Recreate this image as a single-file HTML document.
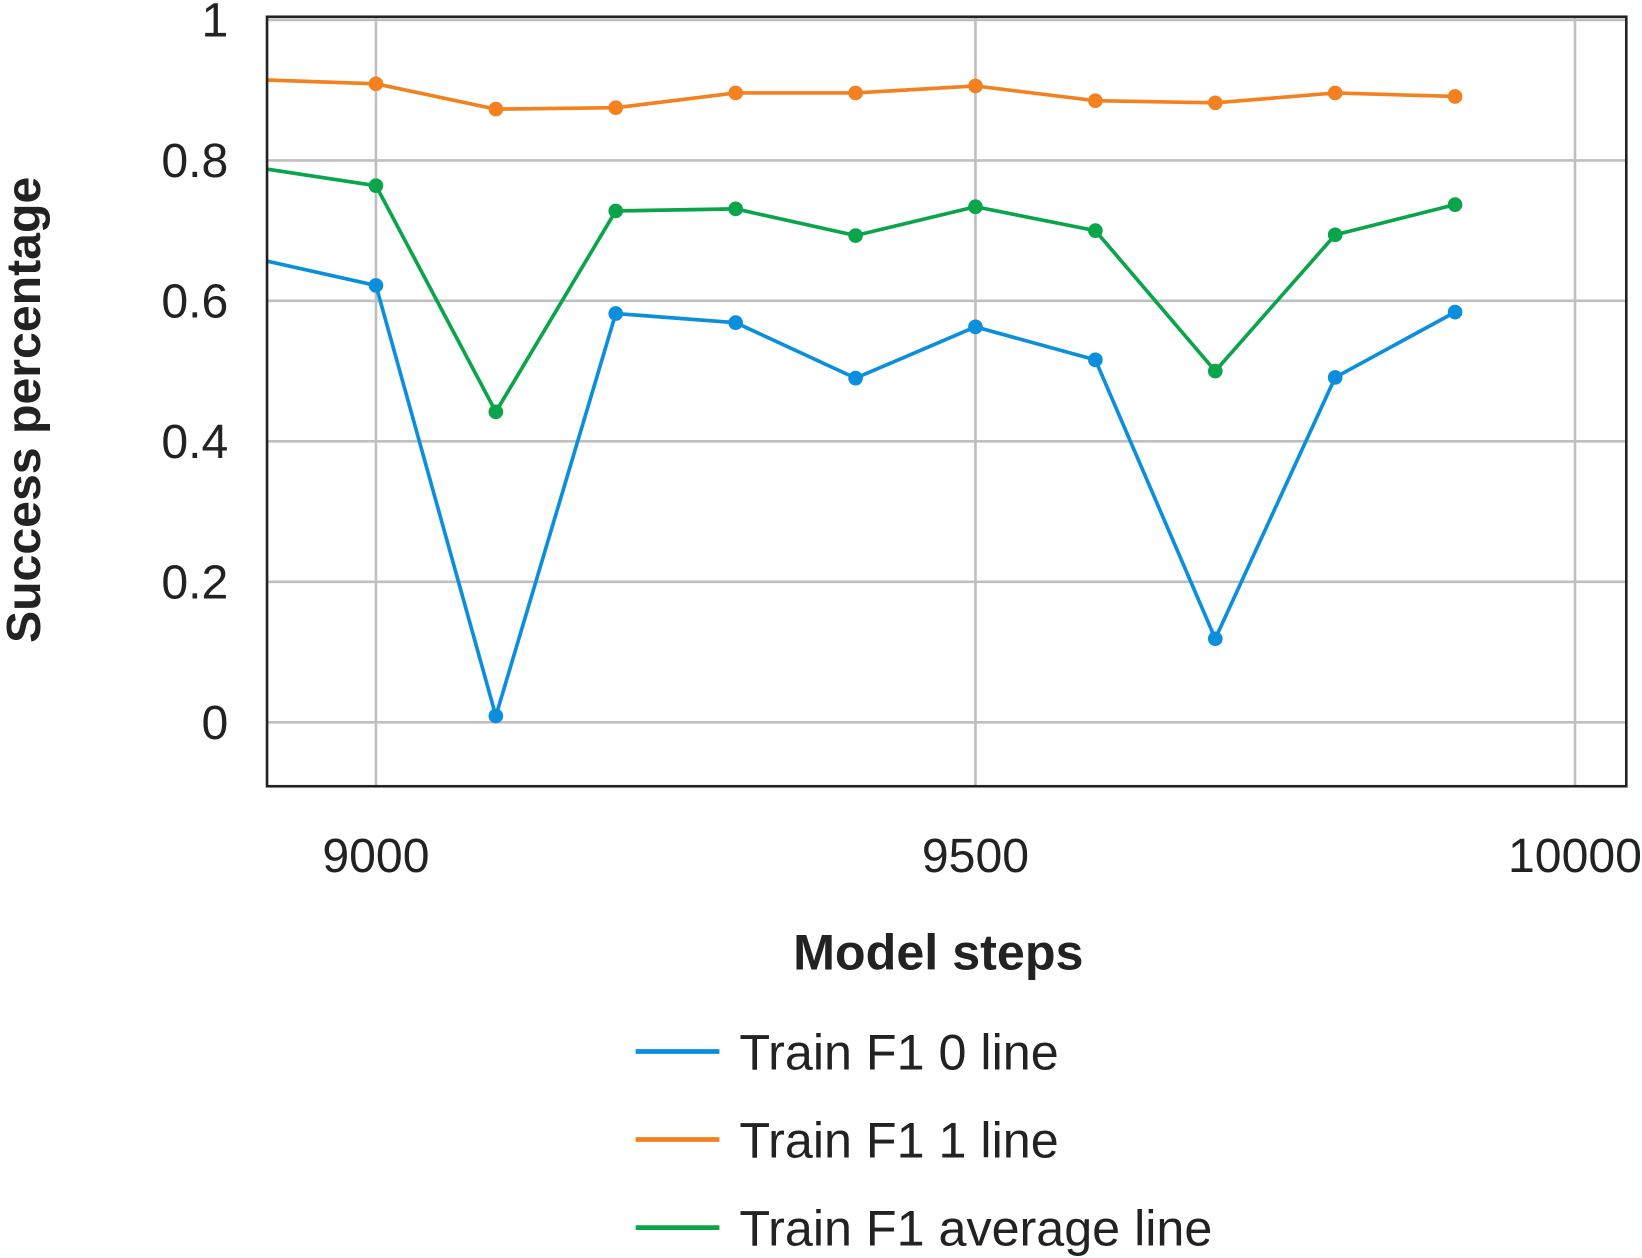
<!DOCTYPE html>
<html><head><meta charset="utf-8"><style>
html,body{margin:0;padding:0;background:#fff;}
svg{display:block;font-family:"Liberation Sans",sans-serif;}
</style></head><body>
<svg id="chart" width="1642" height="1258" viewBox="0 0 1568 1200" preserveAspectRatio="none" xmlns="http://www.w3.org/2000/svg">
<defs><clipPath id="plotclip"><rect x="255" y="16" width="1298" height="734"/></clipPath></defs>
<g id="grid"></g>
<g id="series" clip-path="url(#plotclip)"></g>
<rect x="255" y="16" width="1298" height="734" fill="none" stroke="#222" stroke-width="2.5"/>
<g id="ticks"></g>
<text x="896" y="925" text-anchor="middle" font-size="48" font-weight="bold" fill="#222">Model steps</text>
<text transform="translate(38,391) rotate(-90)" text-anchor="middle" font-size="46" font-weight="bold" fill="#222">Success percentage</text>
<g id="legend"></g>
</svg>
<script>
const steps = [8900, 9000, 9100, 9200, 9300, 9400, 9500, 9600, 9700, 9800, 9900];
const f1Zero = [0.66, 0.622, 0.009, 0.582, 0.569, 0.49, 0.563, 0.516, 0.119, 0.491, 0.584];
const f1One = [0.915, 0.909, 0.873, 0.875, 0.896, 0.896, 0.906, 0.885, 0.882, 0.896, 0.891];
const f1Avg = [0.79, 0.764, 0.442, 0.728, 0.731, 0.693, 0.734, 0.7, 0.5, 0.694, 0.737];
const seriesNames = ["Train F1 0 line", "Train F1 1 line", "Train F1 average line"];
const xTicks = [9000, 9500, 10000];
const yTicks = [0, 0.2, 0.4, 0.6, 0.8, 1];
const yTickLabels = ["0", "0.2", "0.4", "0.6", "0.8", "1"];

const NS = "http://www.w3.org/2000/svg";
const xs = v => 359 + (v - 9000) * (1504 - 359) / 1000;
const ys = v => 689 - v * 670;
function mk(tag, attrs, parent){const e=document.createElementNS(NS,tag);for(const k in attrs)e.setAttribute(k,attrs[k]);parent.appendChild(e);return e;}
const grid=document.getElementById('grid'), ticks=document.getElementById('ticks'), series=document.getElementById('series'), legend=document.getElementById('legend');
xTicks.forEach(t=>{
  const l=mk('line',{x1:xs(t),x2:xs(t),y1:16,y2:750,stroke:'#bfbfbf','stroke-width':2.5},grid);
  
  
  const tx=mk('text',{x:xs(t),y:832,'text-anchor':'middle','font-size':46,fill:'#222'},ticks);
  tx.textContent=t;
  
  
});
yTicks.forEach((t,i)=>{
  const l=mk('line',{x1:255,x2:1553,y1:ys(t),y2:ys(t),stroke:'#bfbfbf','stroke-width':2.5},grid);
  
  
  const tx=mk('text',{x:218,y:ys(t)+16,'text-anchor':'end','font-size':46,fill:'#222'},ticks);
  tx.textContent=yTickLabels[i];
  
  
});
const colors=['#0b8fdc','#f4811f','#0aa54a'];
[f1Zero,f1One,f1Avg].forEach((vals,si)=>{
  const g=mk('g',{},series);
  
  
  const p=mk('polyline',{points:vals.map((v,i)=>xs(steps[i])+','+ys(v)).join(' '),fill:'none',stroke:colors[si],'stroke-width':3.5},g);
  
  
  vals.forEach((v,i)=>{
    const c=mk('circle',{cx:xs(steps[i]),cy:ys(v),r:7,fill:colors[si]},g);
    
    
  });
  const ly=1003+si*84;
  const ll=mk('line',{x1:607,x2:687,y1:ly,y2:ly,stroke:colors[si],'stroke-width':4.5},legend);
  
  
  const lt=mk('text',{x:706,y:ly+17,'font-size':48,fill:'#222'},legend);
  lt.textContent=seriesNames[si];
  
  
});
</script>
</body></html>
